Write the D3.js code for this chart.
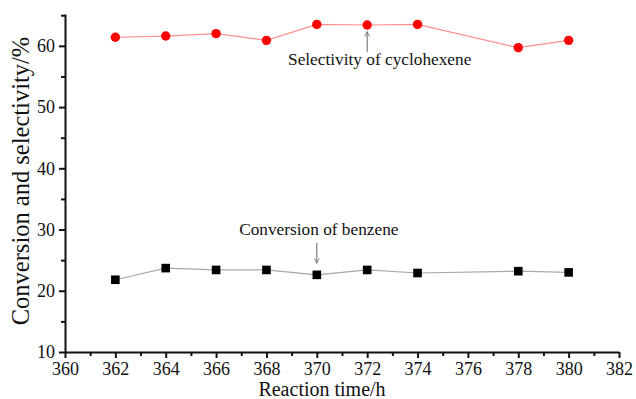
<!DOCTYPE html>
<html lang="en">
<head>
    <meta charset="UTF-8">
    <title>Conversion and selectivity vs reaction time</title>
    <script src="https://d3js.org/d3.v7.min.js"></script>
    <style>
        body { margin: 0; background: white; }
        svg text { font-family: "Liberation Serif", "Times New Roman", serif; fill: #111; }
        .axis path, .axis line { stroke: #111; stroke-width: 2; }
        .axis text { font-size: 18px; }
        .note { font-size: 17.3px; }
    </style>
</head>
<body>
    <svg width="636" height="399"></svg>

    <script>
        const times = [362, 364, 366, 368, 370, 372, 374, 378, 380];
        const selectivity = [61.4, 61.6, 62.0, 60.9, 63.5, 63.4, 63.5, 59.7, 60.9];
        const conversion = [21.8, 23.7, 23.4, 23.4, 22.6, 23.4, 22.9, 23.2, 23.0];
        const xTicks = [360, 362, 364, 366, 368, 370, 372, 374, 376, 378, 380, 382];
        const yTicks = [10, 20, 30, 40, 50, 60];

        const serif = "'Liberation Serif', 'Times New Roman', serif";

        const margin = { top: 14, right: 17, bottom: 47, left: 65 },
              width = 636 - margin.left - margin.right,
              height = 399 - margin.top - margin.bottom;

        const svg = d3.select("svg")
                      .append("g")
                      .attr("transform", `translate(${margin.left},${margin.top})`);

        const xScale = d3.scaleLinear().domain([360, 382]).range([0, width]);
        const yScale = d3.scaleLinear().domain([10, 65.2]).range([height, 0]);

        // minor ticks first, majors on top
        svg.append("g")
           .attr("class", "axis")
           .attr("transform", `translate(0,${height})`)
           .call(d3.axisBottom(xScale).tickValues(d3.range(361, 382, 2)).tickSize(4).tickFormat(""))
           .select(".domain").remove();
        svg.append("g")
           .attr("class", "axis")
           .call(d3.axisLeft(yScale).tickValues([15, 25, 35, 45, 55, 65]).tickSize(4).tickFormat(""))
           .select(".domain").remove();

        svg.append("g")
           .attr("class", "axis")
           .attr("transform", `translate(0,${height})`)
           .attr("font-family", serif)
           .call(d3.axisBottom(xScale).tickValues(xTicks).tickSize(6).tickSizeOuter(0).tickPadding(4));

        svg.append("g")
           .attr("class", "axis")
           .attr("font-family", serif)
           .call(d3.axisLeft(yScale).tickValues(yTicks).tickSize(6).tickSizeOuter(0).tickPadding(4));

        svg.append("text")
           .attr("x", 322 - margin.left)
           .attr("y", height + 44)
           .attr("text-anchor", "middle")
           .style("font-size", "20px")
           .text("Reaction time/h");

        svg.append("text")
           .attr("transform", "rotate(-90)")
           .attr("x", -(181 - margin.top))
           .attr("y", 29 - margin.left)
           .attr("text-anchor", "middle")
           .style("font-size", "24.5px")
           .text("Conversion and selectivity/%");

        const line = d3.line().x(d => xScale(d[0])).y(d => yScale(d[1]));

        const selData = times.map((t, i) => [t, selectivity[i]]);
        const convData = times.map((t, i) => [t, conversion[i]]);

        svg.append("path")
           .datum(selData)
           .attr("fill", "none")
           .attr("stroke", "#ff8f8f")
           .attr("stroke-width", 1.2)
           .attr("d", line);

        svg.selectAll(".sel")
           .data(selData)
           .enter()
           .append("circle")
           .attr("class", "sel")
           .attr("cx", d => xScale(d[0]))
           .attr("cy", d => yScale(d[1]))
           .attr("r", 4.7)
           .attr("fill", "#ff0000");

        svg.append("path")
           .datum(convData)
           .attr("fill", "none")
           .attr("stroke", "#a8a8a8")
           .attr("stroke-width", 1.2)
           .attr("d", line);

        svg.selectAll(".conv")
           .data(convData)
           .enter()
           .append("rect")
           .attr("class", "conv")
           .attr("x", d => xScale(d[0]) - 4.3)
           .attr("y", d => yScale(d[1]) - 4.3)
           .attr("width", 8.6)
           .attr("height", 8.6)
           .attr("fill", "#000");

        // annotations
        const defs = d3.select("svg").append("defs");
        defs.append("marker")
            .attr("id", "arr")
            .attr("viewBox", "0 0 10 10")
            .attr("refX", 9).attr("refY", 5)
            .attr("markerWidth", 6).attr("markerHeight", 6)
            .attr("markerUnits", "userSpaceOnUse")
            .attr("orient", "auto")
            .append("path")
            .attr("d", "M1,1 L9,5 L1,9")
            .attr("fill", "none")
            .attr("stroke", "#666")
            .attr("stroke-width", 1.3);

        svg.append("line")
           .attr("x1", xScale(372)).attr("x2", xScale(372))
           .attr("y1", yScale(59.0)).attr("y2", yScale(62.3))
           .attr("stroke", "#666").attr("stroke-width", 1)
           .attr("marker-end", "url(#arr)");
        svg.append("text")
           .attr("class", "note")
           .attr("x", xScale(372) + 12.5)
           .attr("y", yScale(56.9))
           .attr("text-anchor", "middle")
           .text("Selectivity of cyclohexene");

        svg.append("line")
           .attr("x1", xScale(370)).attr("x2", xScale(370))
           .attr("y1", yScale(27.8)).attr("y2", yScale(24.5))
           .attr("stroke", "#666").attr("stroke-width", 1)
           .attr("marker-end", "url(#arr)");
        svg.append("text")
           .attr("class", "note")
           .attr("x", xScale(370) + 2)
           .attr("y", yScale(29.1))
           .attr("text-anchor", "middle")
           .text("Conversion of benzene");
    </script>
</body>
</html>
